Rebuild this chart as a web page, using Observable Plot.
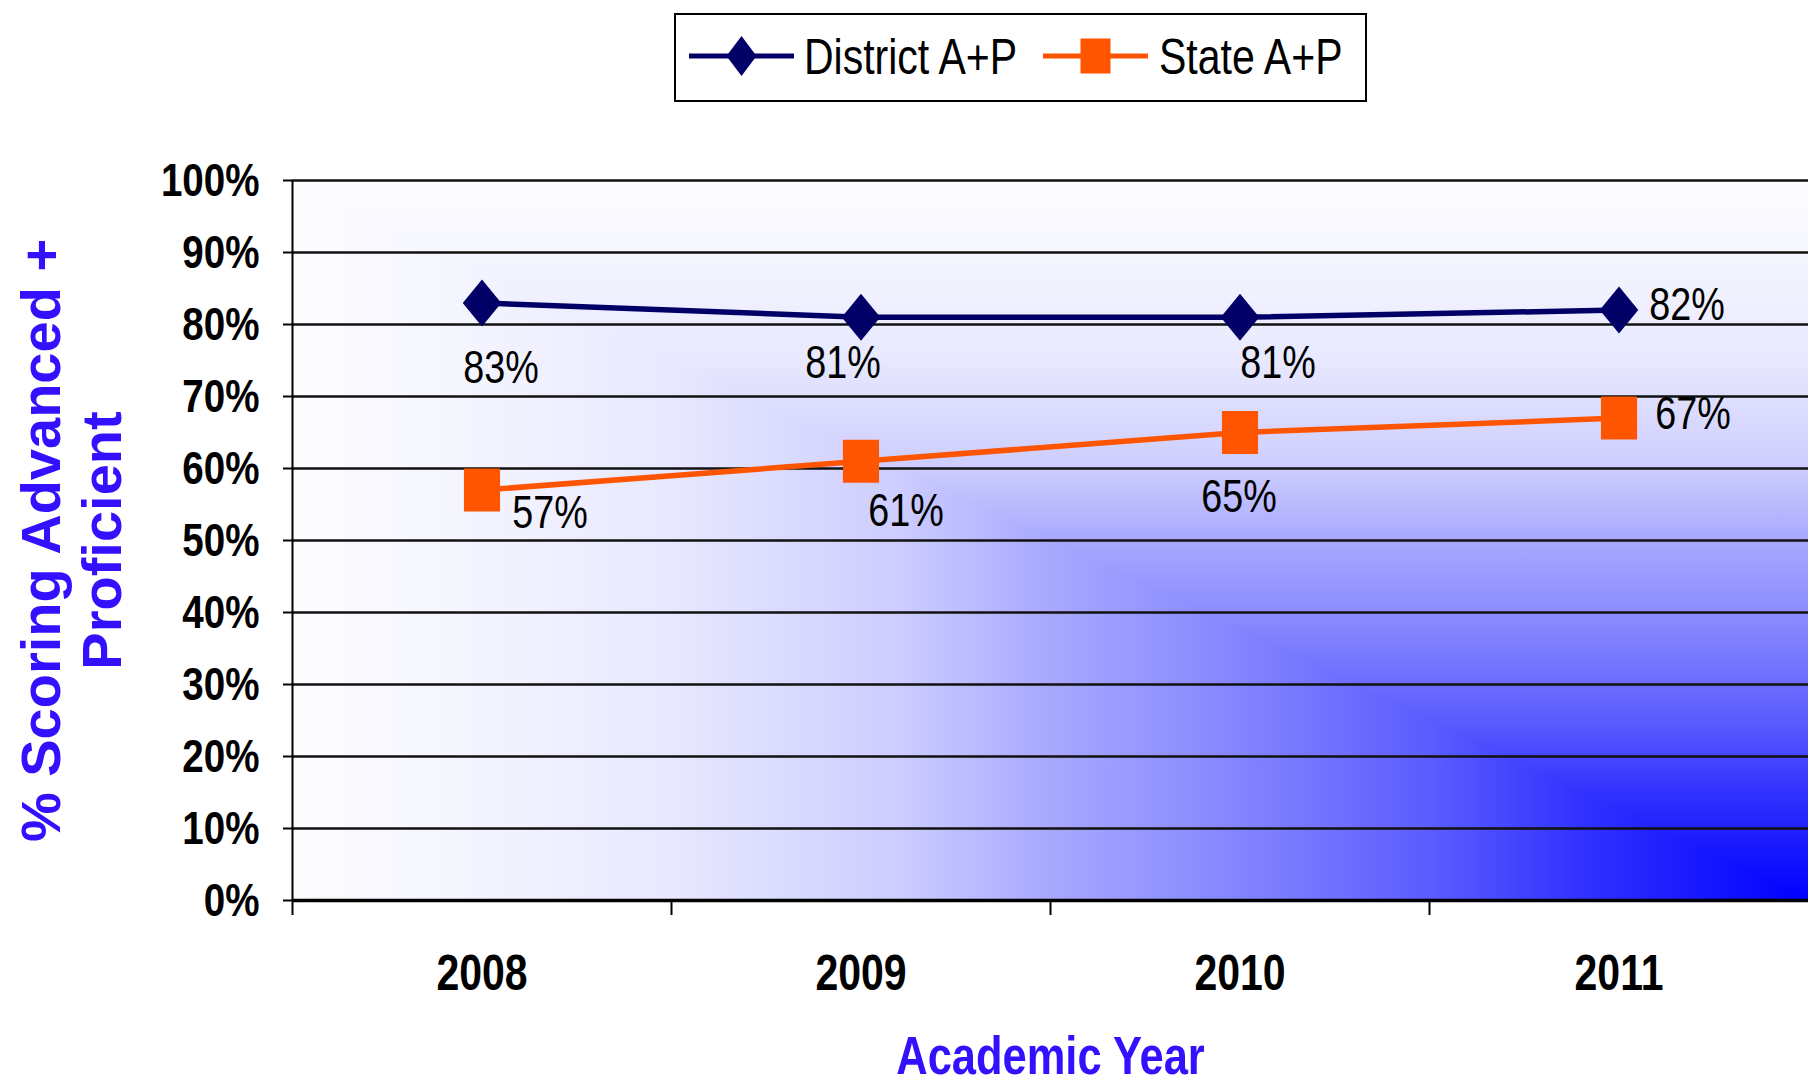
<!DOCTYPE html>
<html>
<head>
<meta charset="utf-8">
<script src="https://cdn.jsdelivr.net/npm/d3@7"></script>
<script src="https://cdn.jsdelivr.net/npm/@observablehq/plot@0.6"></script>
<style>
  html, body { margin: 0; padding: 0; background: #fff; }
  #legend { width: 1808px; height: 110px; }
  #legend svg, #chart svg { display: block; }
</style>
</head>
<body>
<div id="legend"></div>
<div id="chart"></div>
<script>
// ---- data ----
const years = [2008, 2009, 2010, 2011];
const district = [83, 81, 81, 82];
const state = [57, 61, 65, 67];
const seriesNames = ["District A+P", "State A+P"];
const yTicks = [0, 10, 20, 30, 40, 50, 60, 70, 80, 90, 100];
const yearEdges = [2007.5, 2008.5, 2009.5, 2010.5];
const yTitle = "% Scoring Advanced +\nProficient";
const xTitle = "Academic Year";

// label offsets (px, relative to each point) as placed in the original
const districtLabelOffsets = [[19, 65], [-18, 46], [38, 46], [68, -5]];
const stateLabelOffsets = [[68, 23], [45, 50], [-1, 65], [74, -4]];

// ---- styles ----
const NAVY = "#000066";
const ORANGE = "#ff5500";
const BLUE_TEXT = "#3311ff";
// "Narrow" texts are drawn in Liberation Sans and condensed horizontally afterwards
const NARROW = "'Liberation Sans', Arial, 'Arial Narrow', sans-serif";
const WIDE = "'Liberation Sans', Arial, sans-serif";
const CONDENSE = 0.82;

const districtRows = years.map((year, i) => ({year, value: district[i]}));
const stateRows = years.map((year, i) => ({year, value: state[i]}));

const tallDiamond = {
  draw(ctx, size) {
    const r = Math.sqrt(size / Math.PI);
    const w = r * 0.82;
    ctx.moveTo(0, -r); ctx.lineTo(w, 0); ctx.lineTo(0, r); ctx.lineTo(-w, 0); ctx.closePath();
  }
};
const tallSquare = {
  draw(ctx, size) {
    const r = Math.sqrt(size / Math.PI);
    const w = r * 0.84;
    ctx.rect(-w, -r, 2 * w, 2 * r);
  }
};

function labelMarks(rows, offsets) {
  return rows.map((d, i) => Plot.text([d], {
    x: "year", y: "value", text: r => r.value + "%",
    dx: offsets[i][0], dy: offsets[i][1],
    fontSize: 46, fontFamily: NARROW, fill: "#000", textAnchor: "middle", lineAnchor: "middle"
  }));
}

const chart = Plot.plot({
  width: 1808,
  height: 972,
  marginTop: 70,
  marginBottom: 182,
  marginLeft: 292,
  marginRight: 0,
  style: {fontFamily: WIDE, color: "#000", background: "transparent", overflow: "visible"},
  x: {domain: [2007.5, 2011.5], label: null},
  y: {domain: [0, 100], label: null},
  marks: [
    Plot.ruleY(yTicks.filter(d => d > 0), {stroke: "#111", strokeWidth: 2.5}),
    Plot.ruleY([0], {stroke: "#000", strokeWidth: 3.5}),
    Plot.ruleX([yearEdges[0]], {y1: 0, y2: 100, stroke: "#000", strokeWidth: 2}),
    Plot.axisY(yTicks, {
      tickSize: 9, tickPadding: 24, tickFormat: d => d + "%",
      fontSize: 47, fontWeight: "bold", fontFamily: NARROW, strokeWidth: 2, label: null
    }),
    Plot.axisX(yearEdges, {tickSize: 15, tickFormat: () => "", strokeWidth: 2, label: null}),
    Plot.axisX(years, {
      tickSize: 0, tickPadding: 54, tickFormat: d => String(d),
      fontSize: 50, fontWeight: "bold", fontFamily: NARROW, label: null
    }),
    Plot.text([yTitle], {
      text: d => d, frameAnchor: "left", dx: -222, rotate: -90, lineHeight: 1.09,
      textAnchor: "middle", lineAnchor: "middle",
      fontSize: 56, fontWeight: "bold", fontFamily: WIDE, fill: BLUE_TEXT
    }),
    Plot.text([xTitle], {
      text: d => d, frameAnchor: "bottom", lineAnchor: "top", dy: 136, textAnchor: "middle",
      fontSize: 53, fontWeight: "bold", fontFamily: NARROW, fill: BLUE_TEXT
    }),
    Plot.line(districtRows, {x: "year", y: "value", stroke: NAVY, strokeWidth: 5.5}),
    Plot.line(stateRows, {x: "year", y: "value", stroke: ORANGE, strokeWidth: 5.5}),
    Plot.dot(districtRows, {x: "year", y: "value", symbol: tallDiamond, r: 23.5, fill: NAVY, stroke: "none"}),
    Plot.dot(stateRows, {x: "year", y: "value", symbol: tallSquare, r: 21.5, fill: ORANGE, stroke: "none"}),
    ...labelMarks(districtRows, districtLabelOffsets),
    ...labelMarks(stateRows, stateLabelOffsets)
  ]
});

// ---- "from corner" gradient background of the plot area ----
(function addBackground() {
  const [L, R] = chart.scale("x").range;
  const [B, T] = chart.scale("y").range;
  const stops = [[0, 0], [0.15, 50], [0.25, 92], [0.4, 140], [0.5, 168], [0.6, 205], [0.75, 232], [0.9, 246], [1, 252]];
  const g = d3.create("svg:g");
  const defs = g.append("defs");
  function grad(id, x1, y1, x2, y2) {
    const lg = defs.append("linearGradient").attr("id", id).attr("gradientUnits", "userSpaceOnUse")
      .attr("x1", x1).attr("y1", y1).attr("x2", x2).attr("y2", y2);
    stops.forEach(([o, v]) => lg.append("stop").attr("offset", o).attr("stop-color", `rgb(${v},${v},255)`));
  }
  grad("bgH", R, 0, L, 0);
  grad("bgV", 0, B, 0, T);
  g.append("rect").attr("x", L).attr("y", T).attr("width", R - L).attr("height", B - T).attr("fill", "url(#bgH)");
  g.append("polygon").attr("points", `${L},${T} ${R},${T} ${R},${B}`).attr("fill", "url(#bgV)");
  const style = chart.querySelector("style");
  chart.insertBefore(g.node(), style ? style.nextSibling : chart.firstChild);
})();

document.getElementById("chart").appendChild(chart);

function condense(textNodes) {
  textNodes.forEach(t => {
    if (t.querySelector("tspan")) return;
    const len = t.getComputedTextLength();
    if (!len) return;
    t.setAttribute("textLength", (len * CONDENSE).toFixed(2));
    t.setAttribute("lengthAdjust", "spacingAndGlyphs");
  });
}
condense(chart.querySelectorAll('g[font-family*="Narrow"] text'));

// ---- legend ----
(function buildLegend() {
  const svg = d3.select("#legend").append("svg").attr("width", 1808).attr("height", 110);
  svg.append("rect").attr("x", 675).attr("y", 14).attr("width", 691).attr("height", 87)
    .attr("fill", "#fff").attr("stroke", "#000").attr("stroke-width", 2);
  const specs = [
    {name: seriesNames[0], color: NAVY, shape: "diamond", x0: 689, tx: 804},
    {name: seriesNames[1], color: ORANGE, shape: "square", x0: 1043, tx: 1159}
  ];
  const cy = 56;
  specs.forEach(s => {
    svg.append("line").attr("x1", s.x0).attr("x2", s.x0 + 105).attr("y1", cy).attr("y2", cy)
      .attr("stroke", s.color).attr("stroke-width", 5);
    const cx = s.x0 + 52.5;
    if (s.shape === "diamond") {
      svg.append("polygon").attr("points", `${cx},${cy - 20} ${cx + 15},${cy} ${cx},${cy + 20} ${cx - 15},${cy}`).attr("fill", s.color);
    } else {
      svg.append("rect").attr("x", cx - 15).attr("y", cy - 17.5).attr("width", 30).attr("height", 35).attr("fill", s.color);
    }
    svg.append("text").attr("x", s.tx).attr("y", 74).attr("font-family", WIDE).attr("font-size", 50)
      .attr("fill", "#000").text(s.name);
  });
  condense(svg.node().querySelectorAll("text"));
})();
</script>
</body>
</html>
